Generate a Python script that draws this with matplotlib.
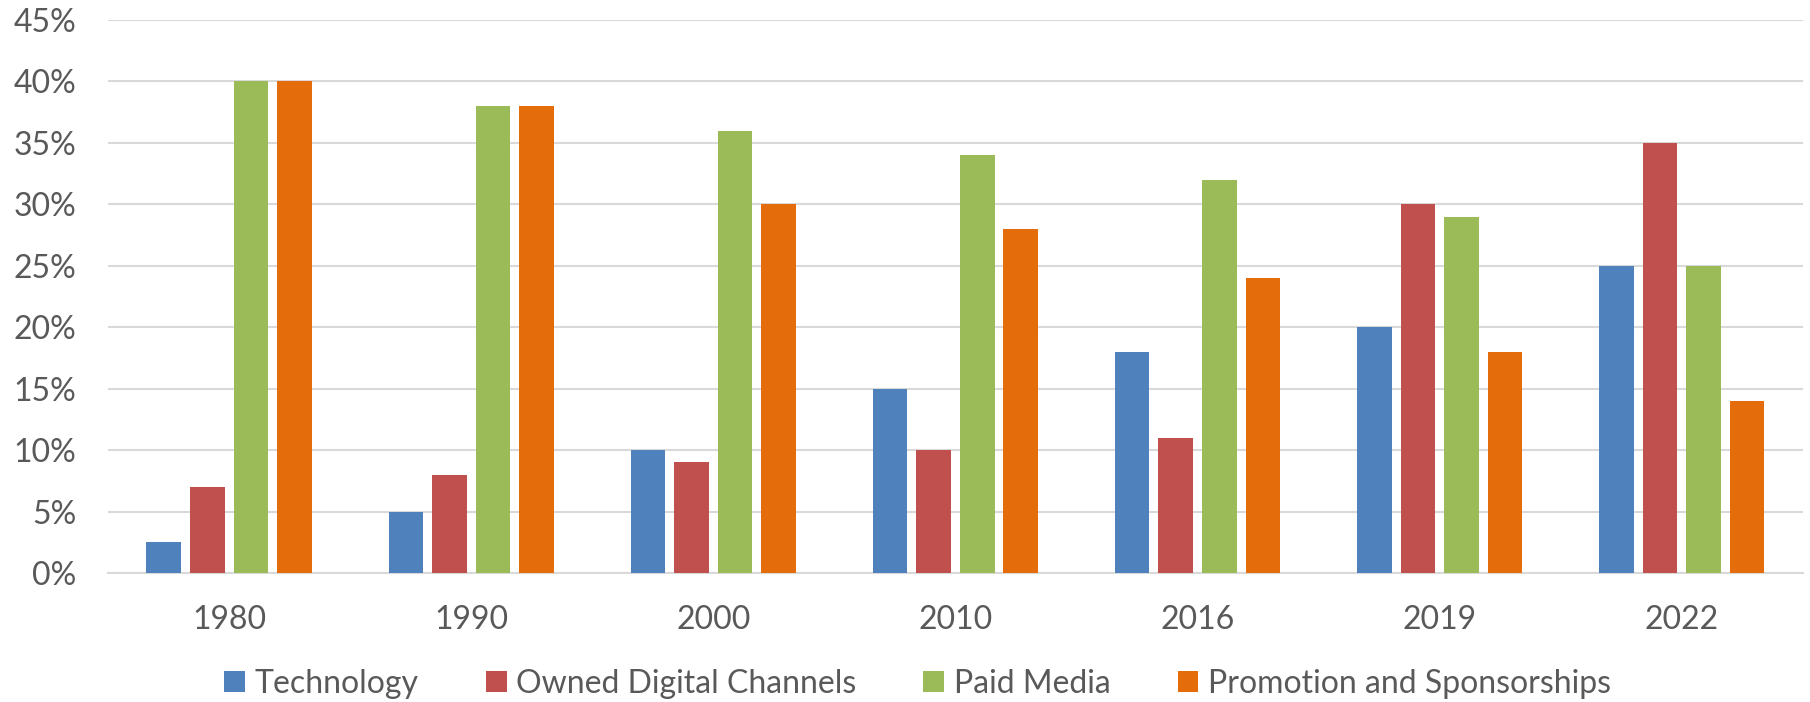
# grouped bar chart: marketing budget share by year
import numpy as np
import matplotlib.pyplot as plt

plt.rcParams['font.family'] = ['Lato', 'DejaVu Sans']

years = ['1980', '1990', '2000', '2010', '2016', '2019', '2022']
technology = [2.5, 5, 10, 15, 18, 20, 25]
owned_digital = [7, 8, 9, 10, 11, 30, 35]
paid_media = [40, 38, 36, 34, 32, 29, 25]
promotion = [40, 38, 30, 28, 24, 18, 14]

series_names = ['Technology', 'Owned Digital Channels', 'Paid Media',
                'Promotion and Sponsorships']
colors = ['#4F81BD', '#C0504D', '#9BBB59', '#E46C0A']

fig = plt.figure(figsize=(18.1, 7.02), dpi=100)
ax = fig.add_axes([0.0597, 0.1838, 0.9363, 0.7877])

x = np.arange(len(years))
width = 0.143
step = 0.18
offsets = [-1.5 * step, -0.5 * step, 0.5 * step, 1.5 * step]
for vals, name, c, off in zip([technology, owned_digital, paid_media, promotion],
                              series_names, colors, offsets):
    ax.bar(x + off, vals, width, color=c, label=name, zorder=3)

ax.set_xlim(-0.5, len(years) - 0.5)
ax.set_ylim(0, 45)
ax.set_yticks(range(0, 46, 5))
ax.set_yticklabels([f'{v}%' for v in range(0, 46, 5)])
ax.set_xticks(x)
ax.set_xticklabels(years)

ax.grid(axis='y', color='#D9D9D9', linewidth=1.5, zorder=0)
for s in ['top', 'right', 'left']:
    ax.spines[s].set_visible(False)
ax.spines['bottom'].set_color('#D9D9D9')
ax.spines['bottom'].set_linewidth(1.5)
ax.tick_params(axis='both', length=0, labelsize=23, colors='#595959')
ax.tick_params(axis='x', pad=23)
ax.tick_params(axis='y', pad=23)

fig.legend(loc='center', bbox_to_anchor=(0.507, 0.026), ncol=4, frameon=False,
           fontsize=23, labelcolor='#595959', handlelength=0.65, handleheight=0.65,
           handletextpad=0.3, columnspacing=2.1)

fig.savefig('out.png')
